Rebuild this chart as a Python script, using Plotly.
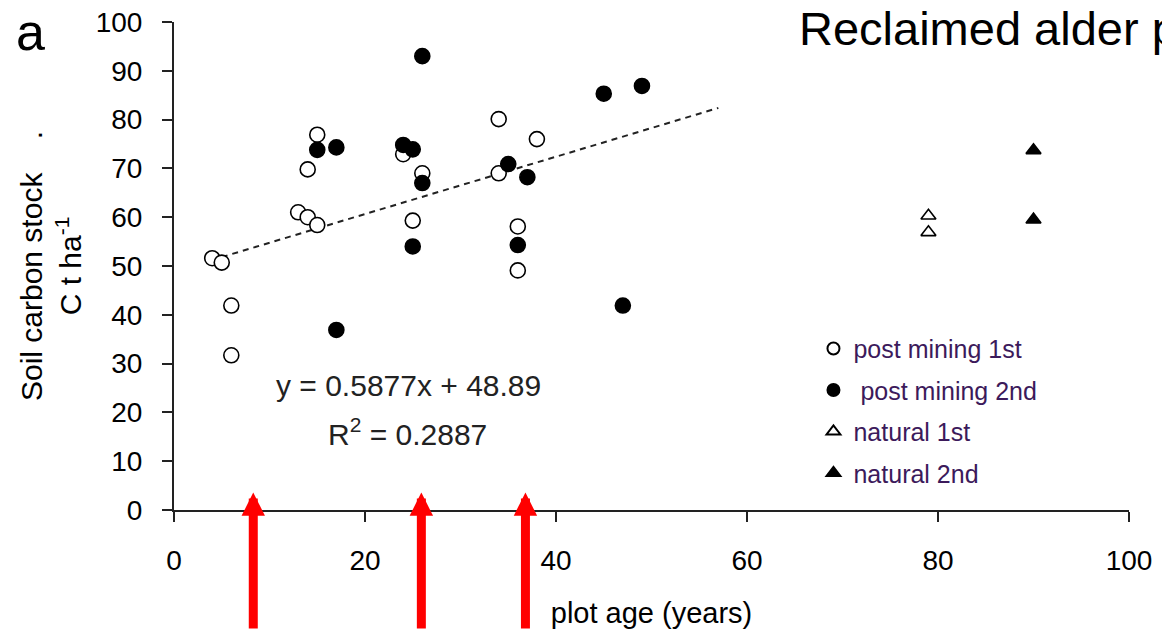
import plotly.graph_objects as go

# ---- data ----
pm1_age = [4, 5, 6, 6, 13, 14, 15, 14, 15, 24, 26, 25, 34, 34, 38, 36, 36]
pm1_soc = [51.6, 50.7, 41.9, 31.7, 61.0, 60.0, 58.4, 69.8, 76.9, 72.9, 69.0, 59.3, 80.1, 69.0, 76.0, 58.1, 49.1]

pm2_age = [15, 17, 17, 26, 24, 25, 26, 25, 35, 37, 36, 45, 49, 47]
pm2_soc = [73.8, 74.3, 36.9, 93.0, 74.8, 73.9, 67.0, 54.0, 70.9, 68.2, 54.3, 85.3, 86.9, 41.9]

nat1_age = [79, 79]
nat1_soc = [60.3, 56.9]

nat2_age = [90, 90]
nat2_soc = [73.7, 59.5]

trend_slope = 0.5877
trend_intercept = 48.89
trend_r2 = 0.2887
trend_age = [5, 57]

arrow_ages = [8.3, 25.9, 36.8]

x_ticks = [0, 20, 40, 60, 80, 100]
y_ticks = [0, 10, 20, 30, 40, 50, 60, 70, 80, 90, 100]

FONT = "Liberation Sans, Arial, sans-serif"
LEG_COLOR = "#3c1a5b"

fig = go.Figure()

fig.add_trace(go.Scatter(
    x=trend_age, y=[trend_slope * a + trend_intercept for a in trend_age],
    mode="lines", line=dict(color="#222222", width=2, dash="6px,5px"),
    showlegend=False, hoverinfo="skip"))

fig.add_trace(go.Scatter(
    x=pm1_age, y=pm1_soc, mode="markers", name="post mining 1st", legendgroup="a",
    marker=dict(symbol="circle", size=15, color="white", line=dict(color="black", width=1.6))))
fig.add_trace(go.Scatter(
    x=pm2_age, y=pm2_soc, mode="markers", name="\u00a0post mining 2nd", legendgroup="b",
    marker=dict(symbol="circle", size=15, color="black", line=dict(color="black", width=1.6))))
fig.add_trace(go.Scatter(
    x=nat1_age, y=nat1_soc, mode="markers", name="natural 1st", legendgroup="c",
    marker=dict(symbol="triangle-up", size=13, color="white", line=dict(color="black", width=1.6))))
fig.add_trace(go.Scatter(
    x=nat2_age, y=nat2_soc, mode="markers", name="natural 2nd", legendgroup="d",
    marker=dict(symbol="triangle-up", size=13, color="black", line=dict(color="black", width=1.6))))

annotations = []
for a in arrow_ages:
    annotations.append(dict(
        x=a, y=3.6, xref="x", yref="y", text="", showarrow=True,
        ax=0, ay=150, axref="pixel", ayref="pixel",
        arrowhead=2, arrowsize=0.52, arrowwidth=9, arrowcolor="#ff0000", standoff=0))

annotations += [
    dict(x=0.2455, y=0.2549, xref="paper", yref="paper", showarrow=False,
         text=f"y = {trend_slope}x + {trend_intercept}",
         font=dict(family=FONT, size=30, color="#222222"), xanchor="center", yanchor="middle"),
    dict(x=0.2445, y=0.160, xref="paper", yref="paper", showarrow=False,
         text=f"R<sup>2</sup> = {trend_r2}",
         font=dict(family=FONT, size=30, color="#222222"), xanchor="center", yanchor="middle"),
    dict(x=-0.1503, y=0.9795, xref="paper", yref="paper", showarrow=False,
         text="a", font=dict(family=FONT, size=52, color="black"),
         xanchor="center", yanchor="middle"),
    dict(x=0.652, y=0.9857, xref="paper", yref="paper", showarrow=False,
         text="Reclaimed alder plantations", font=dict(family=FONT, size=47, color="black"),
         xanchor="left", yanchor="middle"),
]

fig.update_layout(
    width=1162, height=630,
    margin=dict(l=174, r=33, t=22, b=120, autoexpand=False),
    paper_bgcolor="white", plot_bgcolor="white",
    font=dict(family=FONT, color="black"),
    showlegend=True,
    legend=dict(x=0.6696, y=0.3777, xanchor="left", yanchor="top",
                font=dict(family=FONT, size=25, color=LEG_COLOR),
                bgcolor="rgba(0,0,0,0)", borderwidth=0, tracegroupgap=6,
                itemsizing="constant"),
    annotations=annotations,
    xaxis=dict(range=[0, 100], tickvals=x_ticks, showgrid=False, zeroline=False,
               showline=True, linecolor="#222222", linewidth=2,
               ticks="outside", ticklen=10, tickwidth=1.5, tickcolor="#222222",
               tickfont=dict(family=FONT, size=28, color="black"), ticklabelstandoff=14,
               title=dict(text="plot age (years)", font=dict(family=FONT, size=29, color="black"),
                          standoff=28)),
    yaxis=dict(range=[0, 100], tickvals=y_ticks, showgrid=False, zeroline=False,
               showline=True, linecolor="#222222", linewidth=2,
               ticks="outside", ticklen=10, tickwidth=1.5, tickcolor="#222222",
               tickfont=dict(family=FONT, size=28, color="black"), ticklabelstandoff=14,
               title=dict(text="Soil carbon stock\u00a0\u00a0\u00a0\u00a0.<br>C t ha<sup>-1</sup>",
                          font=dict(family=FONT, size=30, color="black"), standoff=5)),
)

fig.write_html("out.html")
